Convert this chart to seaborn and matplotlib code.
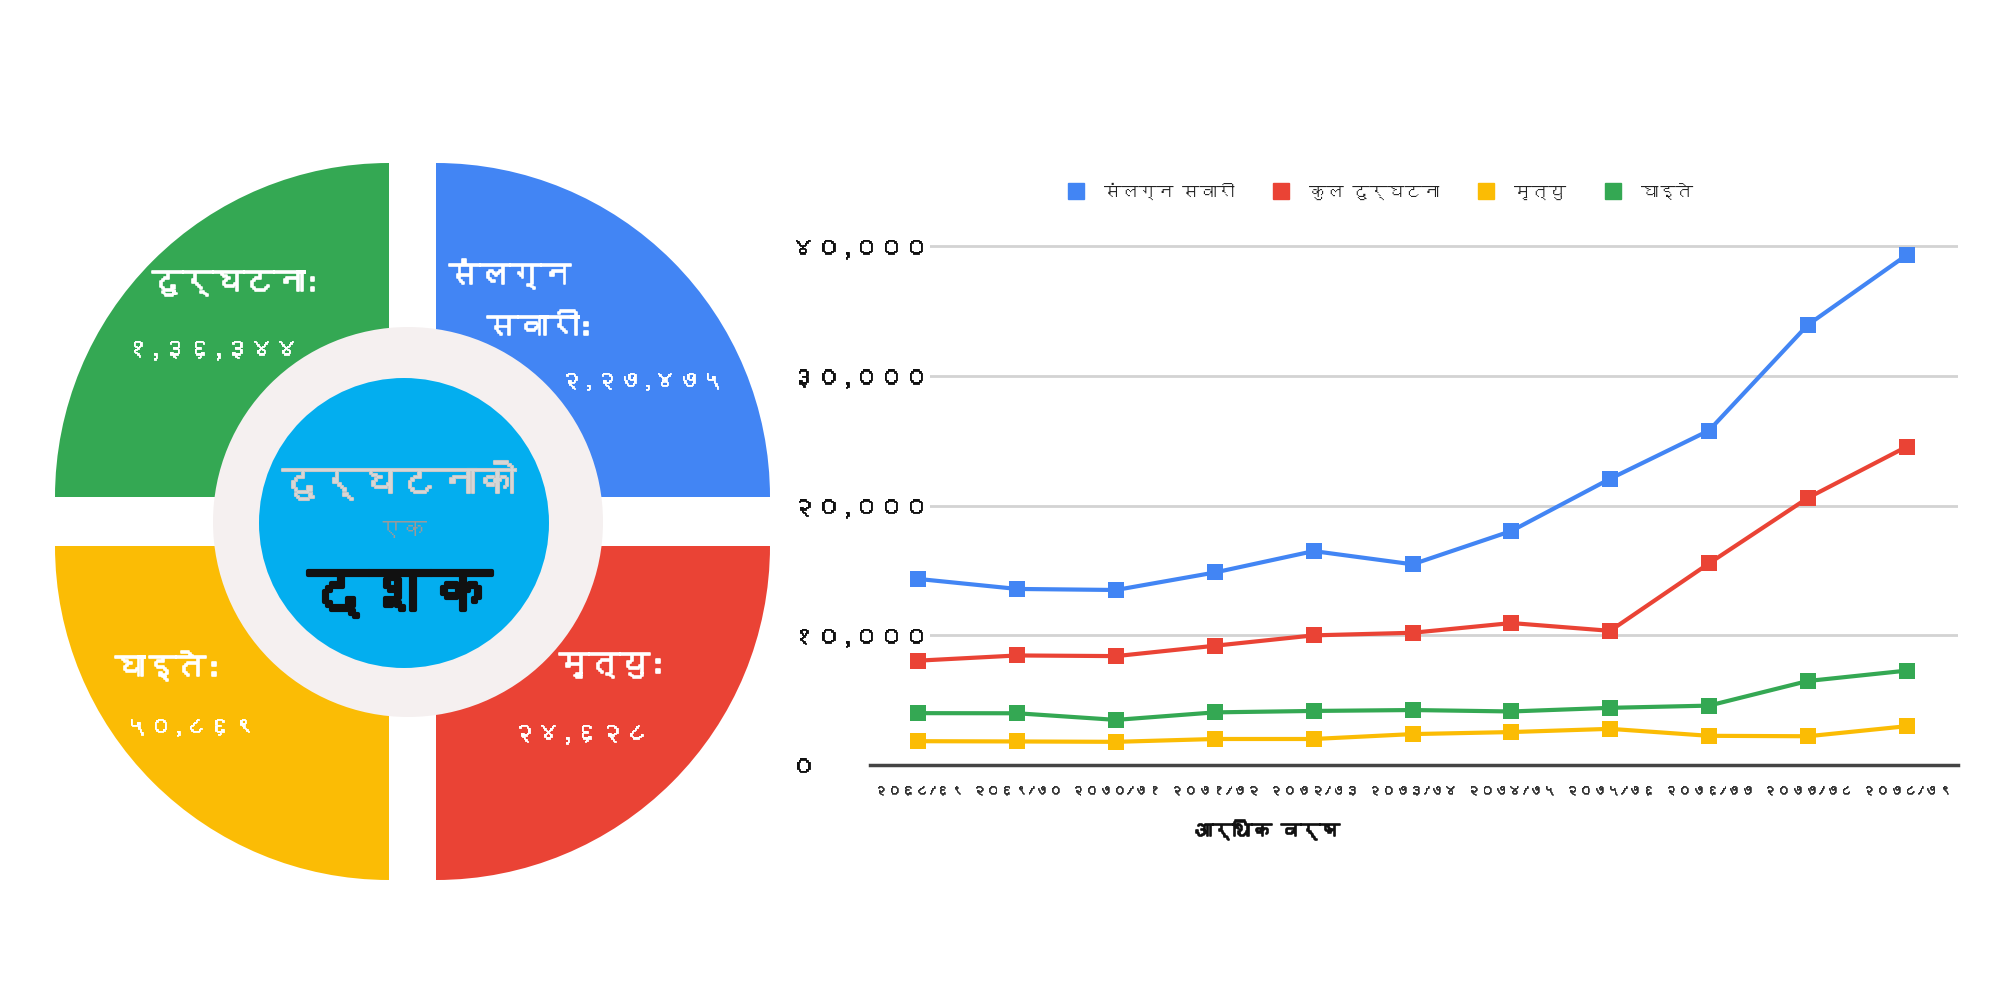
import matplotlib
matplotlib.use("Agg")
import numpy as np
import pandas as pd
import seaborn as sns
from matplotlib import pyplot as plt
from matplotlib import font_manager
from matplotlib import patheffects as pe
from matplotlib.ft2font import FT2Font
from matplotlib.patches import Wedge, Circle
from matplotlib.lines import Line2D

# ---- data -------------------------------------------------------------
years = ['२०६८/६९', '२०६९/७०', '२०७०/७१', '२०७१/७२', '२०७२/७३', '२०७३/७४',
         '२०७४/७५', '२०७५/७६', '२०७६/७७', '२०७७/७८', '२०७८/७९']
series_names = ['संलग्न सवारी', 'कुल दुर्घटना', 'मृत्यु', 'घाइते']
vehicles = [14350, 13580, 13500, 14850, 16500, 15480, 18050, 22080, 25800, 33950, 39330]
accidents = [8050, 8450, 8400, 9200, 10000, 10200, 10950, 10350, 15550, 20600, 24550]
deaths = [1837, 1816, 1787, 2006, 2006, 2384, 2541, 2789, 2251, 2218, 2993]
injured = [4000, 3990, 3480, 4060, 4170, 4240, 4130, 4410, 4580, 6480, 7280]
colors = ['#4285F4', '#EA4335', '#FBBC04', '#34A853']

yticks = [0, 10000, 20000, 30000, 40000]
ytick_labels = ['०', '१०,०००', '२०,०००', '३०,०००', '४०,०००']

totals_title = ['दुर्घटना:', 'संलग्न\nसवारी:', 'घाइते:', 'मृत्यु:']
totals_value = ['१,३६,३४४', '२,२७,४७५', '५०,८६९', '२४,६२८']


# find a font that can draw Devanagari
def find_family(cp):
    for f in font_manager.fontManager.ttflist:
        try:
            if cp in FT2Font(f.fname).get_charmap():
                return f.name
        except Exception:
            pass
    return None


sns.set_theme(style="white")
dev = find_family(0x0915)
fams = ([dev] if dev else []) + ['Noto Sans', 'DejaVu Sans']
plt.rcParams['font.family'] = fams


def bold(col, w=1.2):
    return [pe.withStroke(linewidth=w, foreground=col)]


fig = plt.figure(figsize=(20, 10), dpi=100)

# ---- left: decade summary donut ----------------------------------------
ax0 = fig.add_axes([0, 0, 0.41, 1])
ax0.set_xlim(0, 820)
ax0.set_ylim(0, 1000)
ax0.axis('off')

R = 334
quads = [((389, 503), 90, 180, '#34A853'),
         ((436, 503), 0, 90, '#4285F4'),
         ((389, 454), 180, 270, '#FBBC05'),
         ((436, 454), 270, 360, '#EA4335')]
for (c, t1, t2, col) in quads:
    ax0.add_patch(Wedge(c, R, t1, t2, facecolor=col, edgecolor='none'))
ax0.add_patch(Circle((408, 478), 195, facecolor='#F5F0F0', edgecolor='none'))
ax0.add_patch(Circle((404, 477), 145, facecolor='#03AEEF', edgecolor='none'))

wt = dict(color='white', va='center')
ts, vs = 22, 18
tb, vb = bold('white'), bold('white', 0.6)
ax0.text(236, 716, totals_title[0], ha='center', fontsize=ts, path_effects=tb, **wt)
ax0.text(212, 651, totals_value[0], ha='center', fontsize=vs, path_effects=vb, **wt)
t1, t2 = totals_title[1].split('\n')
ax0.text(449, 726, t1, ha='left', fontsize=ts, path_effects=tb, **wt)
ax0.text(487, 672, t2, ha='left', fontsize=ts, path_effects=tb, **wt)
ax0.text(559, 619, totals_value[1], ha='left', fontsize=vs - 1, path_effects=vb, **wt)
ax0.text(168, 334, totals_title[2], ha='center', fontsize=ts, path_effects=tb, **wt)
ax0.text(190, 273, totals_value[2], ha='center', fontsize=vs - 1, path_effects=vb, **wt)
ax0.text(612, 334, totals_title[3], ha='center', fontsize=ts, path_effects=tb, **wt)
ax0.text(580, 267, totals_value[3], ha='center', fontsize=vs, path_effects=vb, **wt)

ax0.text(399, 519, 'दुर्घटनाको', ha='center', va='center', fontsize=28,
         color='#D6D6D6', path_effects=bold('#C8C8C8', 1.5))
ax0.text(402, 469, 'एक', ha='center', va='center', fontsize=18, color='#9A9A9A')
ax0.text(400, 404, 'दशक', ha='center', va='center', fontsize=44,
         color='#111111', path_effects=bold('#111111', 3))

# ---- right: yearly line chart ------------------------------------------
df = pd.DataFrame({'year': years * 4,
                   'series': np.repeat(series_names, len(years)),
                   'value': vehicles + accidents + deaths + injured})
df['pos'] = list(range(len(years))) * 4

ax = fig.add_axes([0.435, 0.235, 0.544, 0.538])
sns.lineplot(data=df, x='pos', y='value', hue='series', hue_order=series_names,
             palette=colors, marker='s', markersize=12, markeredgewidth=0,
             linewidth=3, legend=False, ax=ax)

ax.set_xlim(-0.49, 10.52)
ax.set_ylim(0, 41500)
ax.set_xticks(range(len(years)))
ax.set_xticklabels(years, fontsize=10, color='#333333')
ax.set_yticks(yticks)
ax.set_yticklabels(ytick_labels, fontsize=18, color='#111111')
for lab in ax.get_yticklabels():
    lab.set_horizontalalignment('left')
    lab.set_bbox(dict(facecolor='white', edgecolor='none', pad=1))
    lab.set_path_effects(bold('#111111', 0.6))
for lab in ax.get_xticklabels():
    lab.set_path_effects(bold('#333333', 0.4))
ax.tick_params(axis='y', length=0, pad=57)
ax.tick_params(axis='x', length=0, pad=14)
ax.set_xlabel('')
ax.set_ylabel('')
ax.yaxis.grid(True, color='#D3D3D3', linewidth=2)
ax.xaxis.grid(False)
ax.set_axisbelow(True)
for s in ['top', 'right', 'left']:
    ax.spines[s].set_visible(False)
ax.spines['bottom'].set_color('#444444')
ax.spines['bottom'].set_linewidth(2.5)

fig.text(0.6335, 0.17, 'आर्थिक वर्ष', ha='center', va='center',
         fontsize=14, color='#111111', path_effects=bold('#111111', 1.2))

handles = [Line2D([], [], marker='s', linestyle='', color=c, markersize=11)
           for c in colors]
fig.legend(handles, series_names, loc='center', bbox_to_anchor=(0.688, 0.809),
           ncol=4, frameon=False, fontsize=12.5, handletextpad=0.6,
           columnspacing=1.7, labelcolor='#222222')

fig.savefig('out.png', dpi=100)
